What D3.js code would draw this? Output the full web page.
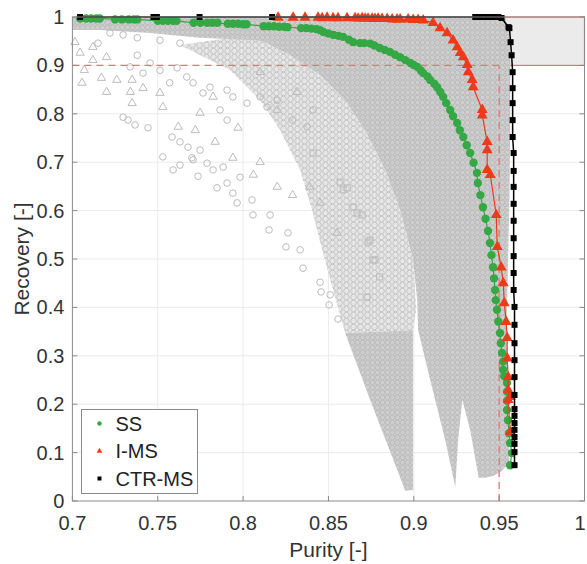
<!DOCTYPE html>
<html>
<head>
<meta charset="utf-8">
<script src="https://cdn.jsdelivr.net/npm/d3@7"></script>
<style>
  body { margin: 0; background: #fff; }
  text { font-family: "Liberation Sans", Arial, sans-serif; }
</style>
</head>
<body>
<div id="chart"></div>
<script>
// ticks
var xTicks = [0.7, 0.75, 0.8, 0.85, 0.9, 0.95, 1];
var yTicks = [0, 0.1, 0.2, 0.3, 0.4, 0.5, 0.6, 0.7, 0.8, 0.9, 1];

// target spec (purity >= 0.95, recovery >= 0.9)
var targetPurity = 0.95;
var targetRecovery = 0.9;

// SS pareto points [purity, recovery]
var ssPoints = [[0.7045,0.997],[0.708,0.997],[0.711,0.997],[0.714,0.997],[0.716,0.997],
  [0.725,0.995],[0.729,0.995],[0.733,0.995],[0.736,0.995],[0.738,0.995],
  [0.750,0.992],[0.753,0.992],[0.756,0.992],[0.759,0.992],[0.761,0.992],
  [0.771,0.988],[0.775,0.988],[0.779,0.988],[0.782,0.988],[0.785,0.988],
  [0.791,0.986],[0.794,0.986],[0.797,0.986],[0.800,0.985],[0.802,0.985],
  [0.812,0.981],[0.815,0.981],[0.818,0.981],[0.821,0.980],[0.824,0.980],[0.826,0.979],
  [0.834,0.977],[0.837,0.977],[0.840,0.976],[0.843,0.975],[0.845,0.973],
  [0.847,0.969],[0.850,0.966],[0.853,0.963],[0.856,0.961],[0.8585,0.959],
  [0.862,0.953],[0.8645,0.948],[0.8685,0.946],[0.871,0.946],[0.8745,0.945],
  [0.877,0.941],[0.880,0.936],[0.883,0.932],[0.886,0.928],[0.889,0.922],[0.892,0.917],
  [0.895,0.911],[0.898,0.905],[0.900,0.901],[0.902,0.897],[0.904,0.890],[0.9055,0.884],
  [0.908,0.877],[0.9096,0.870],[0.912,0.862],[0.9137,0.855],[0.9155,0.845],[0.9172,0.835],
  [0.919,0.822],[0.9213,0.808],[0.923,0.795],[0.9254,0.781],[0.927,0.766],[0.929,0.752],
  [0.931,0.735],[0.933,0.719],[0.935,0.699],[0.937,0.678],[0.9375,0.657],[0.939,0.632],
  [0.9405,0.607],[0.942,0.583],[0.9435,0.558],[0.9446,0.533],[0.9455,0.508],[0.9464,0.483],
  [0.947,0.460],[0.9476,0.436],[0.948,0.415],[0.9487,0.395],[0.9495,0.371],[0.9505,0.347],
  [0.951,0.326],[0.9517,0.306],[0.9523,0.288],[0.9523,0.271],[0.953,0.258],[0.9546,0.244],
  [0.9546,0.226],[0.9546,0.207],[0.9546,0.188],[0.9552,0.167],[0.9558,0.140],[0.9564,0.120],
  [0.9575,0.099],[0.9564,0.074]];

// I-MS pareto points
var imsPoints = [[0.8205,0.999],[0.8293,0.999],[0.8363,0.999],[0.8439,0.999],[0.8463,0.998],
  [0.8492,0.999],[0.8527,0.998],[0.8556,0.998],[0.8609,0.998],[0.8656,0.998],[0.8674,0.997],
  [0.8697,0.998],[0.8715,0.997],[0.8732,0.997],[0.8756,0.997],[0.8773,0.996],[0.8791,0.997],
  [0.8814,0.996],[0.8844,0.996],[0.8873,0.995],[0.8902,0.995],[0.892,0.995],[0.8967,0.995],
  [0.8996,0.994],[0.9025,0.994],[0.9055,0.993],[0.9113,0.988],[0.9154,0.977],[0.9195,0.967],
  [0.923,0.952],[0.9254,0.938],[0.9272,0.926],[0.929,0.917],[0.9313,0.901],[0.9319,0.886],
  [0.9342,0.870],[0.9348,0.855],[0.9401,0.808],[0.9401,0.797],[0.943,0.742],[0.943,0.725],
  [0.943,0.684],[0.9448,0.674],[0.9483,0.591],[0.9489,0.525],[0.9512,0.483],[0.9524,0.450],
  [0.953,0.409],[0.9541,0.370],[0.9547,0.337],[0.9547,0.295],[0.9553,0.256],[0.9553,0.229],
  [0.9565,0.215],[0.9553,0.209],[0.9565,0.143]];

// CTR-MS pareto points
var ctrPoints = [[0.7045,1.0],[0.7475,1.0],[0.7495,1.0],[0.7745,1.0],[0.817,1.0],
  [0.936,1.0],[0.938,1.0],[0.940,1.0],[0.942,1.0],[0.944,1.0],[0.946,1.0],[0.948,1.0],
  [0.9495,1.0],[0.9514,0.998],[0.9555,0.979],[0.956,0.977],[0.9567,0.948],[0.9573,0.921],
  [0.9579,0.886],[0.9579,0.853],[0.9579,0.822],[0.9579,0.787],[0.9579,0.752],[0.9585,0.719],
  [0.9585,0.682],[0.9585,0.649],[0.9585,0.614],[0.9585,0.579],[0.9585,0.543],[0.9585,0.506],
  [0.9585,0.471],[0.9585,0.436],[0.959,0.401],[0.959,0.364],[0.959,0.326],[0.959,0.291],
  [0.959,0.256],[0.959,0.219],[0.959,0.190],[0.959,0.176],[0.959,0.161],[0.959,0.147],
  [0.959,0.132],[0.959,0.118],[0.959,0.101],[0.959,0.074]];

// all simulated operating points (grey). Sparse ones as single markers,
// packed regions as outlines of the cloud.
var greyTriangles = [[0.7015,0.948],[0.712,0.938],[0.7045,0.926],[0.712,0.911],[0.720,0.917],
  [0.707,0.890],[0.717,0.874],[0.726,0.870],[0.7056,0.864],[0.720,0.845],[0.735,0.870],
  [0.734,0.845],[0.7414,0.853],[0.735,0.822],[0.7513,0.843],[0.753,0.814],[0.762,0.773],
  [0.772,0.766],[0.7836,0.742],[0.797,0.771],[0.810,0.886],[0.8316,0.845],[0.820,0.808],
  [0.7824,0.835],[0.7748,0.802],[0.794,0.709],[0.806,0.674],[0.810,0.700],[0.820,0.649],
  [0.829,0.632],[0.839,0.649],[0.845,0.616],[0.855,0.554]];
var greyCircles = [[0.7297,0.793],[0.7326,0.787],[0.7367,0.777],[0.7443,0.771],[0.753,0.711],
  [0.7584,0.752],[0.763,0.742],[0.7677,0.731],[0.759,0.684],[0.7748,0.725],[0.7707,0.705],
  [0.7883,0.690],[0.7982,0.669],[0.715,0.946],[0.722,0.967],[0.7297,0.963],[0.738,0.957],
  [0.7513,0.952],[0.763,0.946],[0.738,0.921],[0.7455,0.905],[0.7338,0.897],[0.7414,0.884],
  [0.7513,0.890],[0.7613,0.895],[0.767,0.876],[0.757,0.864],[0.7707,0.864],[0.7765,0.843],
  [0.7806,0.855],[0.7906,0.849],[0.794,0.835],[0.8023,0.822],[0.7865,0.808],[0.7906,0.787],
  [0.810,0.835],[0.814,0.814],[0.820,0.828],[0.829,0.787],[0.8375,0.773],[0.841,0.808],
  [0.763,0.694],[0.770,0.709],[0.7736,0.671],[0.7824,0.684],[0.7789,0.698],[0.7847,0.647],
  [0.7906,0.657],[0.7965,0.616],[0.794,0.636],[0.8058,0.591],[0.8052,0.622],[0.8152,0.560],
  [0.8158,0.591],[0.8251,0.525],[0.8263,0.554],[0.8351,0.481],[0.8334,0.519],[0.8457,0.432],
  [0.8504,0.405],[0.8556,0.376],[0.8451,0.452],[0.851,0.426]];
var greySquares = [[0.841,0.719],[0.8568,0.659],[0.8586,0.643],[0.8644,0.607],[0.8697,0.591],
  [0.8744,0.539],[0.8762,0.498],[0.861,0.647],[0.8668,0.595],[0.8732,0.535],[0.8773,0.498],
  [0.880,0.463],[0.8726,0.421]];

var looseBand = [[0.763,0.942],[0.7924,0.890],[0.810,0.828],[0.8217,0.766],[0.8334,0.684],
  [0.8404,0.601],[0.8463,0.519],[0.8527,0.436],[0.8598,0.347],[0.8996,0.353],[0.9014,0.395],
  [0.8996,0.498],[0.892,0.601],[0.8832,0.684],[0.8714,0.766],[0.8597,0.828],[0.845,0.880],
  [0.8275,0.921],[0.804,0.963]];
var denseTop = [[0.700,1.0],[0.9535,1.0],[0.9535,0.963],[0.892,0.957],[0.8334,0.948],
  [0.7748,0.957],[0.7455,0.967],[0.716,0.973],[0.700,0.973]];
var denseMain = [[0.804,0.963],[0.8275,0.921],[0.845,0.880],[0.8597,0.828],[0.8714,0.766],
  [0.8832,0.684],[0.892,0.601],[0.8996,0.498],[0.902,0.415],[0.9025,0.354],[0.9096,0.250],
  [0.9184,0.126],[0.9243,0.029],[0.926,0.126],[0.9284,0.209],[0.933,0.147],[0.938,0.048],
  [0.942,0.048],[0.9467,0.052],[0.9508,0.060],[0.956,0.079],[0.9555,0.209],[0.9543,0.354],
  [0.955,0.457],[0.956,0.622],[0.9565,0.787],[0.9565,0.911],[0.9555,0.973],[0.9535,1.0],
  [0.804,1.0]];
var denseV1 = [[0.8598,0.347],[0.8996,0.353],[0.8996,0.023],[0.895,0.021],[0.8744,0.209]];

var legendNames = ["SS", "I-MS", "CTR-MS"];
var seriesColors = ["#35a845", "#ec3a1a", "#000000"];
var specColor = "#e77474";

var width = 587, height = 564;
var margin = { top: 17, right: 2.5, bottom: 63, left: 72.4 };

var svg = d3.select("#chart").append("svg")
    .attr("width", width)
    .attr("height", height);

// marker-like textures for the packed parts of the cloud
var defs = svg.append("defs");
var packed = defs.append("pattern").attr("id", "packed")
    .attr("width", 5).attr("height", 5).attr("patternUnits", "userSpaceOnUse");
packed.append("rect").attr("width", 5).attr("height", 5).attr("fill", "#cecece");
packed.append("circle").attr("cx", 2.5).attr("cy", 2.5).attr("r", 2.3)
    .attr("fill", "none").attr("stroke", "#b9b9b9").attr("stroke-width", 0.8);
var loose = defs.append("pattern").attr("id", "loose")
    .attr("width", 7).attr("height", 6).attr("patternUnits", "userSpaceOnUse");
loose.append("rect").attr("width", 7).attr("height", 6).attr("fill", "#e6e6e6");
loose.append("circle").attr("cx", 3.5).attr("cy", 3).attr("r", 2.8)
    .attr("fill", "none").attr("stroke", "#c2c2c2").attr("stroke-width", 0.9);

var x = d3.scaleLinear().domain([0.7, 1]).range([margin.left, width - margin.right]);
var y = d3.scaleLinear().domain([0, 1]).range([height - margin.bottom, margin.top]);

var x0 = x.range()[0], x1 = x.range()[1], y0 = y.range()[0], y1 = y.range()[1];

// grid
svg.append("g").selectAll("line.gx")
    .data(xTicks.slice(1, -1)).enter().append("line")
    .attr("x1", d => x(d)).attr("x2", d => x(d))
    .attr("y1", y1).attr("y2", y0)
    .attr("stroke", "#ebebeb");
svg.append("g").selectAll("line.gy")
    .data(yTicks.slice(1, -1)).enter().append("line")
    .attr("x1", x0).attr("x2", x1)
    .attr("y1", d => y(d)).attr("y2", d => y(d))
    .attr("stroke", "#ebebeb");

// target region
svg.append("rect")
    .attr("x", x(targetPurity)).attr("y", y(1))
    .attr("width", x(1) - x(targetPurity))
    .attr("height", y(targetRecovery) - y(1))
    .attr("fill", "#ebebeb")
    .attr("stroke", specColor)
    .attr("stroke-width", 1.2);

// grey cloud
var poly = d3.line().x(d => x(d[0])).y(d => y(d[1]));
var cloud = svg.append("g");
cloud.append("path").attr("d", poly(looseBand) + "Z").attr("fill", "url(#loose)");
[denseTop, denseMain, denseV1].forEach(function (p) {
    cloud.append("path").attr("d", poly(p) + "Z").attr("fill", "url(#packed)");
});

var greyStroke = "#bcbcbc";
cloud.selectAll("circle.g").data(greyCircles).enter().append("circle")
    .attr("cx", d => x(d[0])).attr("cy", d => y(d[1])).attr("r", 3.3)
    .attr("fill", "none").attr("stroke", greyStroke);
cloud.selectAll("path.t").data(greyTriangles).enter().append("path")
    .attr("d", d3.symbol(d3.symbolTriangle, 30))
    .attr("transform", d => "translate(" + x(d[0]) + "," + y(d[1]) + ")")
    .attr("fill", "none").attr("stroke", greyStroke);
cloud.selectAll("rect.s").data(greySquares).enter().append("rect")
    .attr("x", d => x(d[0]) - 3).attr("y", d => y(d[1]) - 3)
    .attr("width", 6).attr("height", 6)
    .attr("fill", "none").attr("stroke", greyStroke);

// spec lines
svg.append("line")
    .attr("x1", x0).attr("x2", x(targetPurity))
    .attr("y1", y(targetRecovery)).attr("y2", y(targetRecovery))
    .attr("stroke", specColor).attr("stroke-width", 1.3).attr("stroke-dasharray", "7,5");
svg.append("line")
    .attr("x1", x(targetPurity)).attr("x2", x(targetPurity))
    .attr("y1", y(0)).attr("y2", y(targetRecovery))
    .attr("stroke", specColor).attr("stroke-width", 1.3).attr("stroke-dasharray", "7,5");

// pareto fronts
var line = d3.line().x(d => x(d[0])).y(d => y(d[1]));

svg.append("path").datum(ssPoints).attr("d", line)
    .attr("fill", "none").attr("stroke", seriesColors[0]).attr("stroke-width", 1.2);
svg.append("g").selectAll("circle").data(ssPoints).enter().append("circle")
    .attr("cx", d => x(d[0])).attr("cy", d => y(d[1])).attr("r", 4.2)
    .attr("fill", seriesColors[0]);

svg.append("path").datum(imsPoints).attr("d", line)
    .attr("fill", "none").attr("stroke", seriesColors[1]).attr("stroke-width", 1.2);
svg.append("g").selectAll("path").data(imsPoints).enter().append("path")
    .attr("d", d3.symbol(d3.symbolTriangle, 52))
    .attr("transform", d => "translate(" + x(d[0]) + "," + y(d[1]) + ")")
    .attr("fill", seriesColors[1]);

svg.append("path").datum(ctrPoints).attr("d", line)
    .attr("fill", "none").attr("stroke", seriesColors[2]).attr("stroke-width", 1.5);
svg.append("g").selectAll("rect").data(ctrPoints).enter().append("rect")
    .attr("x", d => x(d[0]) - 3).attr("y", d => y(d[1]) - 3)
    .attr("width", 6).attr("height", 6)
    .attr("fill", seriesColors[2]);

// axes box
svg.append("rect")
    .attr("x", x0).attr("y", y1)
    .attr("width", x1 - x0).attr("height", y0 - y1)
    .attr("fill", "none").attr("stroke", "#8a8a8a");

// ticks (inside)
svg.append("g").selectAll("line").data(xTicks).enter().append("line")
    .attr("x1", d => x(d)).attr("x2", d => x(d))
    .attr("y1", y0).attr("y2", y0 - 5)
    .attr("stroke", "#8a8a8a");
svg.append("g").selectAll("line").data(yTicks).enter().append("line")
    .attr("x1", x0).attr("x2", x0 + 5)
    .attr("y1", d => y(d)).attr("y2", d => y(d))
    .attr("stroke", "#8a8a8a");
svg.append("g").selectAll("line").data(yTicks).enter().append("line")
    .attr("x1", x1).attr("x2", x1 - 5)
    .attr("y1", d => y(d)).attr("y2", d => y(d))
    .attr("stroke", "#8a8a8a");

svg.append("g").selectAll("text").data(xTicks).enter().append("text")
    .attr("x", d => Math.min(x(d), width - 7)).attr("y", y0 + 29)
    .attr("text-anchor", "middle")
    .style("font-size", "20px").attr("fill", "#333")
    .text(d => String(d));
svg.append("g").selectAll("text").data(yTicks).enter().append("text")
    .attr("x", x0 - 8).attr("y", d => y(d) + 7)
    .attr("text-anchor", "end")
    .style("font-size", "20px").attr("fill", "#333")
    .text(d => String(d));

svg.append("text")
    .attr("x", (x0 + x1) / 2).attr("y", 557)
    .attr("text-anchor", "middle")
    .style("font-size", "21px").attr("fill", "#333")
    .text("Purity [-]");
svg.append("text")
    .attr("transform", "translate(29," + (y0 + y1) / 2 + ") rotate(-90)")
    .attr("text-anchor", "middle")
    .style("font-size", "21px").attr("fill", "#333")
    .text("Recovery [-]");

// legend
var legend = svg.append("g").attr("transform", "translate(81.5,409.5)");
legend.append("rect").attr("width", 116).attr("height", 84)
    .attr("fill", "#fff").attr("stroke", "#8a8a8a");
var items = legend.selectAll("g").data(legendNames).enter().append("g")
    .attr("transform", (d, i) => "translate(0," + (14 + i * 27.5) + ")");
items.filter((d, i) => i === 0).append("circle")
    .attr("cx", 18).attr("cy", 0).attr("r", 2.3).attr("fill", seriesColors[0]);
items.filter((d, i) => i === 1).append("path")
    .attr("d", d3.symbol(d3.symbolTriangle, 14))
    .attr("transform", "translate(18,0)").attr("fill", seriesColors[1]);
items.filter((d, i) => i === 2).append("rect")
    .attr("x", 16).attr("y", -2).attr("width", 4).attr("height", 4).attr("fill", seriesColors[2]);
items.append("text")
    .attr("x", 34).attr("y", 7)
    .style("font-size", "20px").attr("fill", "#222")
    .text(d => d);
</script>
</body>
</html>
